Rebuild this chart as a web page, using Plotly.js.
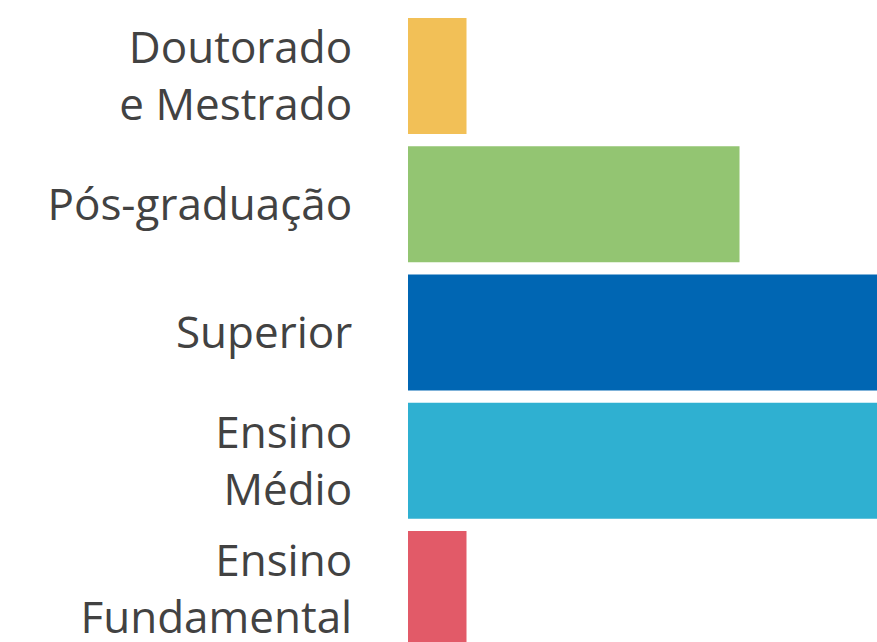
<!DOCTYPE html>
<html>
<head>
<meta charset="utf-8">
<script src="https://cdn.plot.ly/plotly-3.0.1.min.js"></script>
<style>
html, body { margin: 0; padding: 0; overflow: hidden; background: #fff; }
#chart { width: 877px; height: 642px; }
</style>
</head>
<body>
<div id="chart"></div>
<script>
// Categories (top to bottom) and values (estimated; two bars run past the visible edge)
const categories = ["Doutorado<br>e Mestrado", "Pós-graduação", "Superior", "Ensino<br>Médio", "Ensino<br>Fundamental"];
const values = [3, 17, 35, 38, 3];
const colors = ["#F2C057", "#93C572", "#0066B3", "#2FB0D1", "#E25A68"];

const trace = {
  type: "bar",
  orientation: "h",
  y: categories,
  x: values,
  marker: { color: colors, line: { width: 0 } },
  hoverinfo: "none"
};

const layout = {
  width: 877,
  height: 642,
  margin: { l: 408, r: 0, t: 0, b: 0, pad: 0 },
  paper_bgcolor: "#ffffff",
  plot_bgcolor: "#ffffff",
  bargap: 0.0955,
  showlegend: false,
  font: { family: "'Open Sans', sans-serif", color: "#424242", size: 44 },
  xaxis: {
    range: [0, 24.05],
    visible: false,
    showgrid: false,
    zeroline: false,
    fixedrange: true
  },
  yaxis: {
    type: "category",
    categoryorder: "array",
    categoryarray: categories,
    range: [4.413, -0.5926],
    showgrid: false,
    zeroline: false,
    showline: false,
    ticks: "outside",
    ticklen: 46,
    tickcolor: "rgba(0,0,0,0)",
    tickfont: { family: "'Open Sans', sans-serif", color: "#424242", size: 44 },
    fixedrange: true
  }
};

Plotly.newPlot("chart", [trace], layout, { displayModeBar: false, staticPlot: true });
</script>
</body>
</html>
